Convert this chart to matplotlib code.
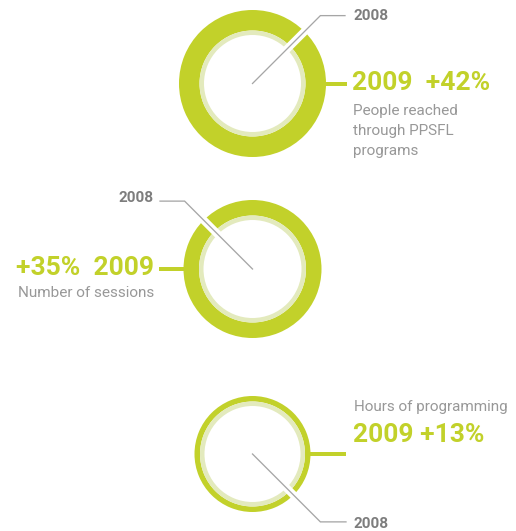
import matplotlib
matplotlib.use("Agg")
import matplotlib.pyplot as plt
from matplotlib.patches import Wedge
import numpy as np

# ---- data ----
metrics = ["People reached\nthrough PPSFL\nprograms", "Number of sessions", "Hours of programming"]
growth_labels = ["2009  +42%", "+35%  2009", "2009 +13%"]
year_prev = "2008"
size_2008 = [53, 53.5, 52.5]   # ring size of 2008 (inner circle)
size_2009 = [73.5, 69, 58]     # ring size of 2009 (outer ring)

# ---- style ----
GREEN = "#c2d12a"
LIGHT = "#e3eabd"
GRAY_LINE = "#a6a6a6"
GRAY_LBL = "#7d7d7d"
GRAY_TXT = "#989898"
BIG_FONT = ["Roboto", "DejaVu Sans"]
TXT_FONT = ["Roboto", "DejaVu Sans"]

W, H = 516, 531
fig = plt.figure(figsize=(W / 100, H / 100), dpi=100)
ax = fig.add_axes([0, 0, 1, 1])
ax.set_xlim(0, W)
ax.set_ylim(H, 0)
ax.axis("off")

px = 72 / 100  # points per pixel

# layout per chart
centers = [(252.5, 83.5), (252.5, 269), (252.5, 454)]
diag = [(1, -1), (-1, -1), (1, 1)]          # direction of 2008 leader line
corner_r = [96, 96, 96]                     # distance to leader elbow
elbow_end = [345, 160, 346]                 # x where leader ends
conn_end = [347, 159, 346]                  # green connector end x

for i in range(3):
    cx, cy = centers[i]
    r9, r8 = size_2009[i], size_2008[i]
    # outer 2009 ring
    ax.add_patch(Wedge((cx, cy), r9, 0, 360, width=r9 - r8, facecolor=GREEN, edgecolor="none"))
    # 2008 circle (light ring)
    ax.add_patch(Wedge((cx, cy), r8, 0, 360, width=4.5, facecolor=LIGHT, edgecolor="none"))
    # green connector
    side = 1 if conn_end[i] > cx else -1
    ax.plot([cx + side * (r9 - 2), conn_end[i]], [cy, cy], color=GREEN, lw=4 * px,
            solid_capstyle="butt", zorder=2)
    # white gap along leader line
    dx, dy = diag[i]
    u = np.array([dx, dy]) / np.sqrt(2)
    g0, g1 = r8 - 8, r9 + 3
    ax.plot([cx + u[0] * g0, cx + u[0] * g1], [cy + u[1] * g0, cy + u[1] * g1],
            color="white", lw=8 * px, solid_capstyle="butt", zorder=3)
    # gray leader line
    ex, ey = cx + u[0] * corner_r[i], cy + u[1] * corner_r[i]
    ax.plot([cx, ex, elbow_end[i]], [cy, ey, ey], color=GRAY_LINE, lw=1.3 * px,
            solid_joinstyle="miter", zorder=4)

# ---- texts ----
# chart 1
ax.text(353, 16, year_prev, color=GRAY_LBL, fontsize=11, fontweight="bold",
        family=TXT_FONT, ha="left", va="center")
ax.text(352, 83.5, growth_labels[0], color=GREEN, fontsize=19, fontweight="bold",
        family=BIG_FONT, ha="left", va="center")
ax.text(353, 103.5, metrics[0], color=GRAY_TXT, fontsize=11, family=TXT_FONT,
        ha="left", va="top", linespacing=1.57)
# chart 2
ax.text(154, 198, year_prev, color=GRAY_LBL, fontsize=11, fontweight="bold",
        family=TXT_FONT, ha="right", va="center")
ax.text(154, 268, growth_labels[1], color=GREEN, fontsize=19, fontweight="bold",
        family=BIG_FONT, ha="right", va="center")
ax.text(154, 293, metrics[1], color=GRAY_TXT, fontsize=11, family=TXT_FONT,
        ha="right", va="center")
# chart 3
ax.text(354, 407, metrics[2], color=GRAY_TXT, fontsize=11, family=TXT_FONT,
        ha="left", va="center")
ax.text(353, 435, growth_labels[2], color=GREEN, fontsize=19, fontweight="bold",
        family=BIG_FONT, ha="left", va="center")
ax.text(354, 524, year_prev, color=GRAY_LBL, fontsize=11, fontweight="bold",
        family=TXT_FONT, ha="left", va="center")

fig.savefig("out.png", dpi=100, facecolor="white")
